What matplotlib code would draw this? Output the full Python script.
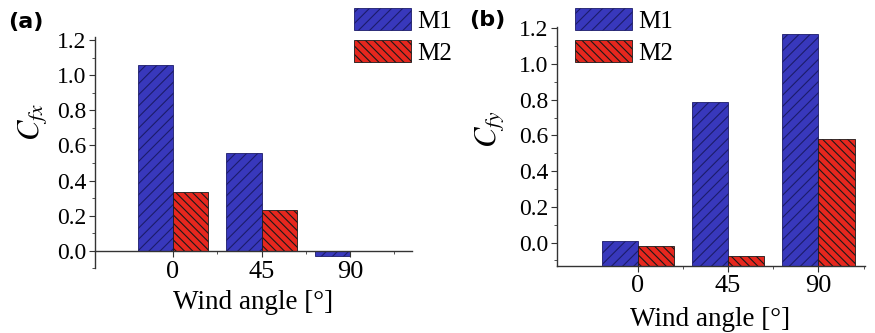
import matplotlib
matplotlib.use('Agg')
import matplotlib.pyplot as plt
import numpy as np

# data
angles = ['0', '45', '90']
series = ['M1', 'M2']
cfx_m1 = [1.06, 0.56, -0.03]
cfx_m2 = [0.335, 0.23, 0.0]
cfy_m1 = [0.01, 0.79, 1.17]
cfy_m2 = [-0.02, -0.075, 0.58]

blue = '#3838bc'
red = '#e6271e'

plt.rcParams['font.family'] = ['Liberation Serif', 'DejaVu Serif']
plt.rcParams['mathtext.fontset'] = 'stix'
plt.rcParams['hatch.linewidth'] = 0.8
plt.rcParams['axes.linewidth'] = 1.0

fig = plt.figure(figsize=(8.75, 3.33), dpi=100)
ax_a = fig.add_axes([0.1086, 0.194, 0.3625, 0.696])
ax_b = fig.add_axes([0.636, 0.202, 0.353, 0.718])

x = np.arange(len(angles))
w = 0.4


def style_axis(ax):
    for s in ['top', 'right']:
        ax.spines[s].set_visible(False)
    for s in ['left', 'bottom']:
        ax.spines[s].set_color('#333333')
    ax.set_yticks(np.arange(0, 1.21, 0.2))
    ax.set_yticklabels([f'{v:.1f}' for v in np.arange(0, 1.21, 0.2)])
    ax.set_yticks(np.arange(-0.1, 1.21, 0.1), minor=True)
    ax.set_xticks(x)
    ax.set_xticklabels(angles)
    ax.set_xticks([0.5, 1.5, 2.5], minor=True)
    ax.tick_params(axis='y', which='major', direction='out', length=4, labelsize=17, pad=2, color='#333333')
    ax.tick_params(axis='y', which='minor', direction='out', length=2, color='#333333')
    ax.tick_params(axis='x', which='major', direction='out', length=4, labelsize=19, color='#333333')
    ax.tick_params(axis='x', which='minor', direction='out', length=2, color='#333333')
    ax.set_xlabel('Wind angle [°]', fontsize=19.5)


# panel (a): baseline at zero, axis line at zero
ax_a.bar(x - w / 2, cfx_m1, w, color=blue, edgecolor='#1c1c6a', hatch='///', linewidth=0.6, label=series[0])
ax_a.bar(x + w / 2, cfx_m2, w, color=red, edgecolor='#1a1a1a', hatch='\\\\\\\\', linewidth=0.6, label=series[1])
ax_a.set_xlim(-0.88, 2.7)
ax_a.set_ylim(-0.1, 1.22)
style_axis(ax_a)
ax_a.spines['bottom'].set_position(('data', 0))
ax_a.tick_params(axis='x', which='major', pad=3)
ax_a.xaxis.set_label_coords(0.289, 0.13, transform=fig.transFigure)
ax_a.set_ylabel(r'$C_{fx}$', fontsize=22)
ax_a.yaxis.set_label_coords(-0.145, 0.63)

# panel (b): bars start from the bottom of the axis
yb = -0.13
ax_b.bar(x - w / 2, np.array(cfy_m1) - yb, w, bottom=yb, color=blue, edgecolor='#1c1c6a', hatch='///', linewidth=0.6, label=series[0])
ax_b.bar(x + w / 2, np.array(cfy_m2) - yb, w, bottom=yb, color=red, edgecolor='#1a1a1a', hatch='\\\\\\\\', linewidth=0.6, label=series[1])
ax_b.set_xlim(-0.9, 2.52)
ax_b.set_ylim(yb, 1.21)
style_axis(ax_b)
ax_b.tick_params(axis='x', which='major', pad=3)
ax_b.xaxis.set_label_coords(0.812, 0.078, transform=fig.transFigure)
ax_b.set_ylabel(r'$C_{fy}$', fontsize=22)
ax_b.yaxis.set_label_coords(-0.165, 0.57)

for ax, anchor in [(ax_a, (0.404, 0.975)), (ax_b, (0.657, 0.975))]:
    ax.legend(loc='upper left', bbox_to_anchor=anchor, bbox_transform=fig.transFigure,
              frameon=False, fontsize=18, handlelength=2.3, handleheight=0.95,
              labelspacing=0.3, handletextpad=0.25, borderpad=0, borderaxespad=0)

fig.text(0.009, 0.935, '(a)', fontsize=16, fontweight='bold', family='DejaVu Sans', va='center')
fig.text(0.536, 0.94, '(b)', fontsize=16, fontweight='bold', family='DejaVu Sans', va='center')

fig.savefig('out.png', dpi=100)
